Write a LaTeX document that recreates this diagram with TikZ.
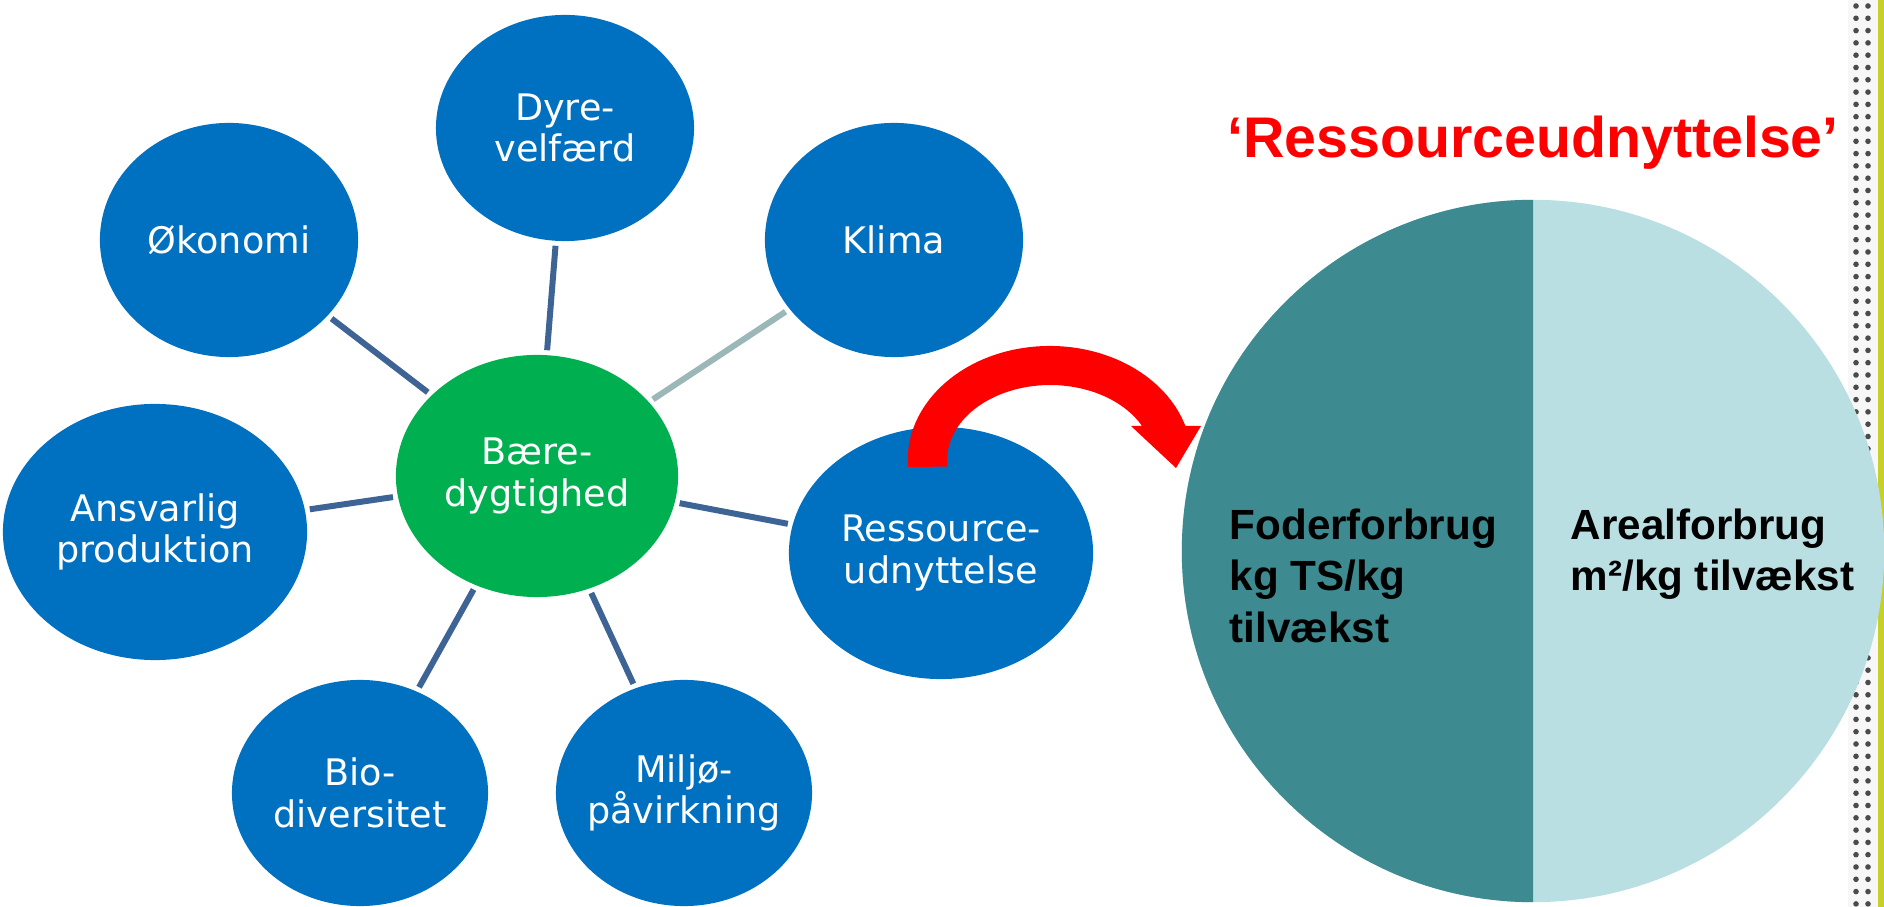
\documentclass[tikz,border=0pt]{standalone}
\usepackage{fontspec}
\usepackage{xcolor}
\usepackage{tikz}
\usetikzlibrary{shapes.geometric, positioning}

\newfontfamily\verd{DejaVu Sans}
\newfontfamily\arial{Liberation Sans}

\definecolor{topicblue}{RGB}{0,112,192}
\definecolor{hubgreen}{RGB}{0,176,80}
\definecolor{linkblue}{RGB}{62,100,150}
\definecolor{linkgrey}{RGB}{155,183,183}
\definecolor{feedteal}{RGB}{61,139,144}
\definecolor{arealteal}{RGB}{185,223,227}
\definecolor{barlime}{RGB}{198,208,40}
\definecolor{dotgrey}{RGB}{75,75,75}

\begin{document}
\begin{tikzpicture}[
    x=0.01cm, y=-0.01cm,
    topic/.style={ellipse, fill=topicblue, text=white, font=\verd\fontsize{10.4}{11.8}\selectfont, align=center, inner xsep=-0.4cm, inner ysep=0pt, outer sep=0pt, minimum width=2.58cm, minimum height=2.26cm},
    hub/.style={topic, fill=hubgreen, minimum width=2.82cm, minimum height=2.42cm},
    link/.style={line width=0.06cm, linkblue, shorten <=0.05cm, shorten >=0.05cm},
    pietext/.style={anchor=north west, inner sep=0pt, align=left, font=\arial\bfseries\fontsize{12}{14.7}\selectfont}
]
\useasboundingbox (0,0) rectangle (1884,907);

\fill[black!3] (1848,0) rectangle (1878,907);
\fill[barlime] (1878,0) rectangle (1884,907);
\foreach \k in {0,...,73} {
    \fill[dotgrey] (1856,{6+12.3*\k}) circle[radius=0.028cm];
    \fill[dotgrey] (1868,{6+12.3*\k}) circle[radius=0.028cm];
}

\node[hub] (hub) at (537,476) {Bære-\\dygtighed};
\node[topic] (dyre) at (565,128) {Dyre-\\velfærd};
\node[topic, minimum height=2.34cm] (oko) at (229,240) {Økonomi};
\node[topic, minimum height=2.34cm] (klima) at (894,240) {Klima};
\node[topic, minimum width=3.04cm, minimum height=2.56cm] (ansv) at (155,532) {Ansvarlig\\produktion};
\node[topic, minimum width=3.04cm, minimum height=2.52cm] (ress) at (941,553) {Ressource-\\udnyttelse};
\node[topic, minimum width=2.56cm] (bio) at (360,793) {Bio-\\diversitet};
\node[topic, minimum width=2.56cm] (miljo) at (684,793) {Miljø-\\påvirkning};

\draw[link] (hub) -- (dyre);
\draw[link] (hub) -- (oko);
\draw[link, linkgrey] (hub) -- (klima);
\draw[link] (hub) -- (ansv);
\draw[link] (hub) -- (ress);
\draw[link] (hub) -- (bio);
\draw[link] (hub) -- (miljo);

\node[circle, minimum size=7.02cm, inner sep=0pt, outer sep=0pt] (pie) at (1533,551) {};
\fill[arealteal] (pie.center) circle[radius=3.51cm];
\fill[feedteal] (pie.north) arc[start angle=90, end angle=270, radius=3.51cm] -- cycle;
\node[pietext] (foder) at (1229,508) {Foderforbrug\\kg TS/kg\\tilvækst};
\node[pietext] (areal) at (1570,508) {Arealforbrug\\m²/kg tilvækst};
\node[font=\arial\bfseries\fontsize{16.3}{19}\selectfont, text=red, inner sep=0pt, above=0.3cm of pie] (title) {‘Ressourceudnyttelse’};

\fill[red] (908,467) arc[start angle=183.5, end angle=17.4, x radius=1.42cm, y radius=1.14cm]
    -- (1201,426) -- (1176,468) -- (1131,426) -- (1142,426)
    arc[start angle=27, end angle=185, x radius=1.03cm, y radius=0.75cm] -- cycle;

\end{tikzpicture}
\end{document}
